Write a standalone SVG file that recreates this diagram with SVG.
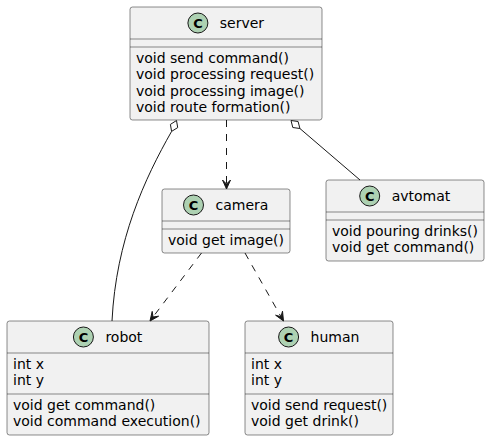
<svg xmlns="http://www.w3.org/2000/svg" width="490" height="440" viewBox="0 0 490 440">
<style>
  .box { fill: #F1F1F1; stroke: #181818; stroke-width: 0.5; }
  .sep { stroke: #181818; stroke-width: 0.5; }
  .spot { fill: #ADD1B2; stroke: #181818; stroke-width: 1; }
  .spotc { font-family: "DejaVu Sans", sans-serif; font-size: 13px; font-weight: bold; fill: #000; text-anchor: middle; }
  .name { font-family: "DejaVu Sans", sans-serif; font-size: 14px; fill: #000; }
  .mem { font-family: "DejaVu Sans", sans-serif; font-size: 14px; fill: #000; }
  .edge { fill: none; stroke: #181818; stroke-width: 1; }
  .dash { stroke-dasharray: 7 7; }
  .head { fill: #181818; stroke: #181818; stroke-width: 1; }
  .dia { fill: #FFFFFF; stroke: #181818; stroke-width: 1; }
</style>
<rect width="490" height="440" fill="#FFFFFF"/>

<g id="server">
  <rect class="box" x="130" y="7" width="192" height="113" rx="2.5"/>
  <circle class="spot" cx="197.9" cy="23" r="10"/>
  <text class="spotc" x="197.9" y="27.7">C</text>
  <text class="name" x="219.8" y="28">server</text>
  <line class="sep" x1="130" y1="39" x2="322" y2="39"/>
  <line class="sep" x1="130" y1="47" x2="322" y2="47"/>
  <text class="mem" x="136" y="63">void send command()</text>
  <text class="mem" x="136" y="79.3">void processing request()</text>
  <text class="mem" x="136" y="95.6">void processing image()</text>
  <text class="mem" x="136" y="111.9">void route formation()</text>
</g>

<g id="camera">
  <rect class="box" x="162" y="189" width="128" height="64" rx="2.5"/>
  <circle class="spot" cx="193.5" cy="205" r="10"/>
  <text class="spotc" x="193.5" y="209.7">C</text>
  <text class="name" x="215.5" y="210">camera</text>
  <line class="sep" x1="162" y1="221" x2="290" y2="221"/>
  <line class="sep" x1="162" y1="229" x2="290" y2="229"/>
  <text class="mem" x="168" y="245">void get image()</text>
</g>

<g id="avtomat">
  <rect class="box" x="326" y="180" width="158" height="81" rx="2.5"/>
  <circle class="spot" cx="369.7" cy="196" r="10"/>
  <text class="spotc" x="369.7" y="200.7">C</text>
  <text class="name" x="391.7" y="201">avtomat</text>
  <line class="sep" x1="326" y1="212" x2="484" y2="212"/>
  <line class="sep" x1="326" y1="220" x2="484" y2="220"/>
  <text class="mem" x="332" y="236">void pouring drinks()</text>
  <text class="mem" x="332" y="252.3">void get command()</text>
</g>

<g id="robot">
  <rect class="box" x="7" y="321" width="202" height="114" rx="2.5"/>
  <circle class="spot" cx="83.4" cy="337" r="10"/>
  <text class="spotc" x="83.4" y="341.7">C</text>
  <text class="name" x="105.4" y="342">robot</text>
  <line class="sep" x1="7" y1="353" x2="209" y2="353"/>
  <text class="mem" x="13" y="369">int x</text>
  <text class="mem" x="13" y="385.3">int y</text>
  <line class="sep" x1="7" y1="394" x2="209" y2="394"/>
  <text class="mem" x="13" y="410">void get command()</text>
  <text class="mem" x="13" y="426.3">void command execution()</text>
</g>

<g id="human">
  <rect class="box" x="245" y="321" width="148" height="114" rx="2.5"/>
  <circle class="spot" cx="288.6" cy="337" r="10"/>
  <text class="spotc" x="288.6" y="341.7">C</text>
  <text class="name" x="310.6" y="342">human</text>
  <line class="sep" x1="245" y1="353" x2="393" y2="353"/>
  <text class="mem" x="251" y="369">int x</text>
  <text class="mem" x="251" y="385.3">int y</text>
  <line class="sep" x1="245" y1="394" x2="393" y2="394"/>
  <text class="mem" x="251" y="410">void send request()</text>
  <text class="mem" x="251" y="426.3">void get drink()</text>
</g>

<g id="connectors">
  <path class="edge" d="M171.6,131.4 C145,178 116,240 112,321"/>
  <polygon class="dia" points="176.5,120.5 177.7,127.6 171.6,131.4 170.4,124.4"/>
  <path class="edge" d="M299.9,128.5 L360,180"/>
  <polygon class="dia" points="291,120.5 298.1,121.5 299.9,128.5 292.8,127.5"/>
  <path class="edge dash" d="M226.5,120 L226.5,184"/>
  <polygon class="head" points="226.5,189 222.5,180 226.5,184 230.5,180"/>
  <path class="edge dash" d="M201.5,253 L153,317"/>
  <polygon class="head" points="150,321 152.2,311.4 153,317 158.6,316.2"/>
  <path class="edge dash" d="M245,253 L281,316.7"/>
  <polygon class="head" points="283.5,321 275.6,315.2 281,316.7 282.5,311.2"/>
</g>
</svg>
